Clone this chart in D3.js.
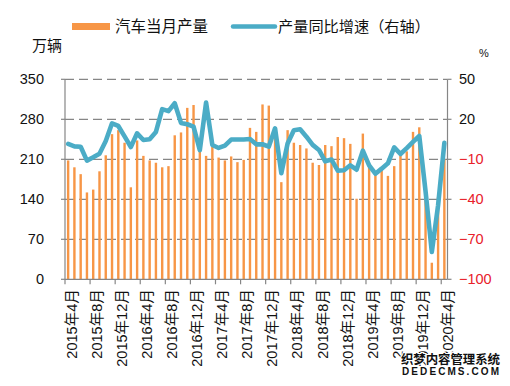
<!DOCTYPE html>
<html><head><meta charset="utf-8">
<script src="https://cdn.jsdelivr.net/npm/d3@7/dist/d3.min.js"></script>
<style>
body{margin:0;background:#fff;}
text{font-family:"Liberation Sans",Arial,"Noto Sans CJK SC",sans-serif;}
</style></head>
<body>
<svg id="c" width="510" height="386"></svg>
<script>
const months = [];
for (let y = 2015, m = 4; !(y === 2020 && m === 5); ) {
  months.push(y + "年" + m + "月");
  m++; if (m > 12) { m = 1; y++; }
}
const production = [208,196,184,152,157,189,217,254,261,239,161,243,
  216,208,204,196,198,252,257,300,305,232,216,232,
  213,208,215,205,209,265,258,306,304,262,170,261,
  239,235,229,204,200,235,233,249,247,237,141,255,
  203,188,192,181,198,218,224,258,266,156,29,144,210];
const growth = [1.5,-0.3,-0.6,-11,-8.5,-5.8,3.8,17,15,7.2,-0.8,9.5,
  4.5,5,10.5,27.6,26.1,32,17.3,16.3,14.5,-3.2,32.5,0.7,
  -1.5,0.3,4.8,4.8,4.8,5.2,1.2,1.3,-0.5,13.2,-20.5,1.8,
  11.8,12.5,7,0.8,-3,-11.5,-10.2,-18.5,-18.2,-14.5,-17.8,-3.5,
  -14.5,-20.8,-17,-13,-1,-6,-1.6,3,7.5,-34,-79.5,-44.5,2.3];
const leftTicks = [0,70,140,210,280,350];
const rightTicks = [-100,-70,-40,-10,20,50];
const legendNames = ["汽车当月产量","产量同比增速（右轴）"];

const svg = d3.select("#c");
const L = 65, R = 447.5, T = 79.3, B = 279.3;
const x = d3.scaleBand().domain(months).range([L, R]).padding(0);
const yL = d3.scaleLinear().domain([0,350]).range([B, T]);
const yR = d3.scaleLinear().domain([-100,50]).range([B, T]);
const orange = "#F79646", teal = "#4BACC6", grey = "#868686";

// gridlines
svg.append("g").selectAll("line").data(leftTicks.filter(d => d > 0)).join("line")
  .attr("x1", L).attr("x2", R).attr("y1", d => yL(d)).attr("y2", d => yL(d))
  .attr("stroke", grey).attr("stroke-width", 1.3).attr("stroke-dasharray", "9,5");

// bars
const bw = 2.4;
svg.append("g").selectAll("rect").data(production).join("rect")
  .attr("x", (d,i) => x(months[i]) + x.bandwidth()/2 - bw/2)
  .attr("width", bw)
  .attr("y", d => yL(d))
  .attr("height", d => B - yL(d))
  .attr("fill", orange);

// axes lines
svg.append("line").attr("x1", L).attr("x2", L).attr("y1", T).attr("y2", B).attr("stroke", grey).attr("stroke-width", 1.2);
svg.append("line").attr("x1", R).attr("x2", R).attr("y1", T).attr("y2", B).attr("stroke", grey).attr("stroke-width", 1.2);
svg.append("line").attr("x1", L).attr("x2", R).attr("y1", B).attr("y2", B).attr("stroke", grey).attr("stroke-width", 1.2);

// left ticks & labels
const gl = svg.append("g");
gl.selectAll("line").data(leftTicks).join("line")
  .attr("x1", L - 4).attr("x2", L).attr("y1", d => yL(d)).attr("y2", d => yL(d))
  .attr("stroke", grey).attr("stroke-width", 1.2);
gl.selectAll("text").data(leftTicks).join("text")
  .attr("x", 44).attr("y", d => yL(d)).attr("dy", "0.35em")
  .attr("text-anchor", "end").attr("font-size", 14.5).attr("fill", "#111")
  .text(d => d);

// right ticks & labels
const gr = svg.append("g");
gr.selectAll("line").data(rightTicks).join("line")
  .attr("x1", R).attr("x2", R + 4).attr("y1", d => yR(d)).attr("y2", d => yR(d))
  .attr("stroke", grey).attr("stroke-width", 1.2);
gr.selectAll("text").data(rightTicks).join("text")
  .attr("x", 459).attr("y", d => yR(d)).attr("dy", "0.35em")
  .attr("text-anchor", "start").attr("font-size", 14.5)
  .attr("fill", d => d < 0 ? "#E8202A" : "#111")
  .text(d => d < 0 ? "\u2212" + Math.abs(d) : d);

// bottom ticks and labels
const tickIdx = months.map((m,i) => i).filter(i => i % 4 === 0);
const gb = svg.append("g");
gb.selectAll("line").data(tickIdx).join("line")
  .attr("x1", i => x(months[i])).attr("x2", i => x(months[i]))
  .attr("y1", B).attr("y2", B + 5)
  .attr("stroke", grey).attr("stroke-width", 1.2);
gb.selectAll("text").data(tickIdx).join("text")
  .attr("transform", i => `translate(${x(months[i]) + x.bandwidth()/2 + 3.5},${B + 10}) rotate(-90)`)
  .attr("text-anchor", "end").attr("dy", "0.35em")
  .attr("font-size", 14.5).attr("fill", "#111")
  .text(i => months[i]);

// line
const line = d3.line()
  .x((d,i) => x(months[i]) + x.bandwidth()/2)
  .y(d => yR(d));
svg.append("path").datum(growth).attr("d", line)
  .attr("fill", "none").attr("stroke", teal).attr("stroke-width", 4.6)
  .attr("stroke-linejoin", "round").attr("stroke-linecap", "round");

// legend
svg.append("rect").attr("x", 72).attr("y", 23).attr("width", 38).attr("height", 7).attr("fill", orange);
svg.append("text").attr("x", 115).attr("y", 32).attr("font-size", 15.5).attr("fill", "#111").text(legendNames[0]);
svg.append("line").attr("x1", 233).attr("x2", 275).attr("y1", 26.5).attr("y2", 26.5)
  .attr("stroke", teal).attr("stroke-width", 4.5).attr("stroke-linecap", "round");
svg.append("text").attr("x", 278).attr("y", 32).attr("font-size", 15.2).attr("fill", "#111").text(legendNames[1]);

// unit labels
svg.append("text").attr("x", 32).attr("y", 51).attr("font-size", 15).attr("fill", "#111").text("万辆");
svg.append("text").attr("x", 479).attr("y", 57).attr("font-size", 11).attr("fill", "#111").text("%");

// watermark
svg.append("text").attr("x", 401).attr("y", 364).attr("font-size", 12.5).attr("font-weight", "bold")
  .attr("fill", "#111").attr("stroke", "#fff").attr("stroke-width", 2).attr("paint-order", "stroke")
  .attr("textLength", 99).text("织梦内容管理系统");
svg.append("text").attr("x", 402).attr("y", 375).attr("font-size", 10).attr("font-weight", "bold")
  .attr("font-family", "DejaVu Sans Mono, monospace")
  .attr("fill", "#111").attr("stroke", "#fff").attr("stroke-width", 2).attr("paint-order", "stroke")
  .attr("textLength", 97).text("DEDECMS.COM");
</script>
</body></html>
